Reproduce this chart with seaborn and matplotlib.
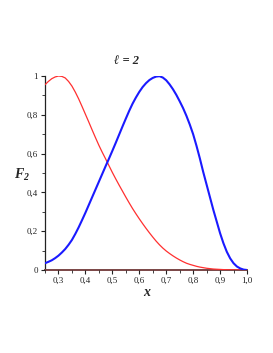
import matplotlib
matplotlib.use("Agg")
import matplotlib.pyplot as plt
import seaborn as sns
import pandas as pd
from matplotlib.ticker import MultipleLocator

# ---- data ----
x_vals = [0.25, 0.2625, 0.275, 0.2875, 0.30, 0.3125, 0.325, 0.3375, 0.35, 0.3625,
          0.375, 0.3875, 0.40, 0.4125, 0.425, 0.4375, 0.45, 0.4625, 0.475, 0.4875,
          0.50, 0.5125, 0.525, 0.5375, 0.55, 0.5625, 0.575, 0.5875, 0.60, 0.6125,
          0.625, 0.6375, 0.65, 0.6625, 0.675, 0.6875, 0.70, 0.7125, 0.725, 0.7375,
          0.75, 0.7625, 0.775, 0.7875, 0.80, 0.8125, 0.825, 0.8375, 0.85, 0.8625,
          0.875, 0.8875, 0.90, 0.9125, 0.925, 0.9375, 0.95, 0.9625, 0.975, 0.9875,
          1.0]
red_vals = [0.955, 0.972, 0.986, 0.995, 1.0, 0.998, 0.99, 0.972, 0.948, 0.917,
            0.882, 0.843, 0.803, 0.763, 0.722, 0.682, 0.643, 0.607, 0.573, 0.538,
            0.503, 0.470, 0.438, 0.407, 0.376, 0.346, 0.317, 0.290, 0.264, 0.239,
            0.215, 0.192, 0.170, 0.149, 0.130, 0.113, 0.098, 0.085, 0.073, 0.062,
            0.052, 0.043, 0.035, 0.029, 0.024, 0.019, 0.015, 0.012, 0.009, 0.007,
            0.005, 0.004, 0.003, 0.002, 0.0015, 0.001, 0.0007, 0.0004, 0.0002, 0.0001,
            0.0]
blue_vals = [0.035, 0.042, 0.050, 0.061, 0.074, 0.090, 0.108, 0.130, 0.155, 0.186,
             0.220, 0.257, 0.295, 0.335, 0.375, 0.415, 0.455, 0.495, 0.535, 0.574,
             0.614, 0.655, 0.697, 0.739, 0.780, 0.820, 0.857, 0.889, 0.918, 0.943,
             0.963, 0.979, 0.990, 0.997, 0.999, 0.992, 0.978, 0.957, 0.932, 0.903,
             0.870, 0.835, 0.795, 0.750, 0.700, 0.640, 0.575, 0.505, 0.440, 0.375,
             0.310, 0.250, 0.190, 0.138, 0.094, 0.060, 0.035, 0.018, 0.008, 0.002,
             0.0]
x_ticks = [0.3, 0.4, 0.5, 0.6, 0.7, 0.8, 0.9, 1.0]
y_ticks = [0, 0.2, 0.4, 0.6, 0.8, 1.0]
title_text = "ℓ = 2"
x_label = "x"
y_label = r"$F_2$"

sns.set_theme(style="ticks")
serif = ["Liberation Serif", "DejaVu Serif"]
plt.rcParams["font.family"] = serif
plt.rcParams["mathtext.fontset"] = "custom"
plt.rcParams["mathtext.it"] = "Liberation Serif:italic:bold"
plt.rcParams["mathtext.rm"] = "Liberation Serif:italic:bold"

df_red = pd.DataFrame({"x": x_vals, "F": red_vals})
df_blue = pd.DataFrame({"x": x_vals, "F": blue_vals})

fig = plt.figure(figsize=(2.73, 3.53), dpi=100)
ax = fig.add_axes([45 / 273, 1 - 270 / 353, (247 - 45) / 273, (270 - 76) / 353])

sns.lineplot(data=df_red, x="x", y="F", ax=ax, color="#ff3030", linewidth=0.9,
             sort=False, estimator=None, solid_joinstyle="round")
sns.lineplot(data=df_blue, x="x", y="F", ax=ax, color="#1a1aff", linewidth=1.5,
             sort=False, estimator=None, solid_joinstyle="round")

ax.set_xlim(0.25, 1.0)
ax.set_ylim(0, 1.0)
sns.despine(ax=ax)
ax.spines["left"].set_linewidth(0.9)
ax.spines["left"].set_color("#222222")
ax.spines["bottom"].set_linewidth(1.4)
ax.spines["bottom"].set_color("#7a4545")
for s in ("left", "bottom"):
    ax.spines[s].set_zorder(0.5)

ax.set_xticks(x_ticks)
ax.set_xticklabels([f"{v:.1f}".replace(".", ",") for v in x_ticks])
ax.set_yticks(y_ticks)
ax.set_yticklabels(["0" if v == 0 else ("1" if v == 1 else f"{v:.1f}".replace(".", ",")) for v in y_ticks])
ax.xaxis.set_minor_locator(MultipleLocator(0.05))
ax.yaxis.set_minor_locator(MultipleLocator(0.1))
ax.tick_params(axis="both", which="major", direction="out", length=3, width=0.8,
               labelsize=6.5, pad=2, colors="#222222")
ax.tick_params(axis="both", which="minor", direction="out", length=2, width=0.6,
               colors="#222222")
for lab in ax.get_xticklabels() + ax.get_yticklabels():
    lab.set_family(serif)
    lab.set_color("#222222")

ax.set_xlabel("")
ax.set_ylabel("")
fig.text(147 / 273, 1 - 292 / 353, x_label, ha="center", va="center",
         fontsize=10, fontweight="bold", fontstyle="italic", family=serif)
fig.text(22 / 273, 1 - 175 / 353, y_label, ha="center", va="center",
         fontsize=10)
fig.text(126 / 273, 1 - 61 / 353, title_text, ha="center", va="center",
         fontsize=9, fontweight="bold", fontstyle="italic", family=serif)

fig.savefig("out.png", dpi=100, facecolor="white")
